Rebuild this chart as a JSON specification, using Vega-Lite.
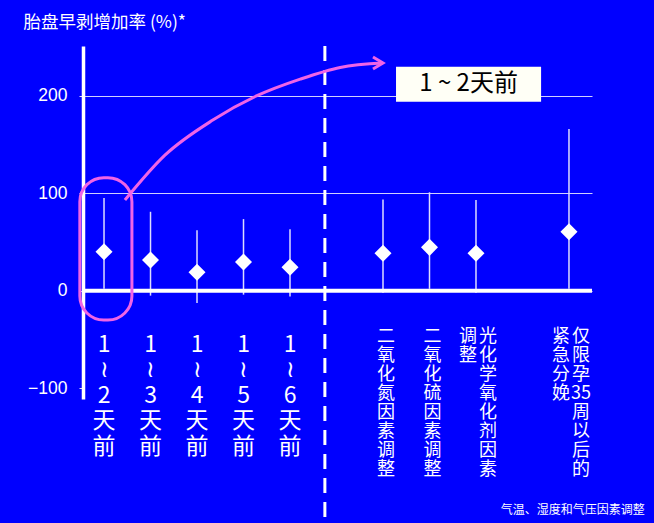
{
  "$schema": "https://vega.github.io/schema/vega-lite/v6.json",
  "width": 509,
  "height": 353,
  "autosize": {"type": "none"},
  "padding": {"left": 83, "top": 46, "right": 62, "bottom": 124},
  "background": "#0000ff",
  "config": {
    "view": {"stroke": null},
    "font": "Liberation Sans, Noto Sans CJK SC",
    "text": {"font": "Noto Sans CJK SC"}
  },
  "resolve": {"axis": {"x": "independent", "y": "independent"}},
  "datasets": {
    "pts": [
      {"idx": 0, "est": 40, "lo": 2, "hi": 95, "grp": "lag", "label": "1\n≀\n2\n天\n前"},
      {"idx": 1, "est": 31.5, "lo": -5, "hi": 81, "grp": "lag", "label": "1\n≀\n3\n天\n前"},
      {"idx": 2, "est": 19, "lo": -12.5, "hi": 62, "grp": "lag", "label": "1\n≀\n4\n天\n前"},
      {"idx": 3, "est": 29.5, "lo": -4, "hi": 73.5, "grp": "lag", "label": "1\n≀\n5\n天\n前"},
      {"idx": 4, "est": 24, "lo": -6, "hi": 63, "grp": "lag", "label": "1\n≀\n6\n天\n前"},
      {"idx": 6, "est": 38.5, "lo": -2, "hi": 93.5, "grp": "adj", "label": "二\n氧\n化\n氮\n因\n素\n调\n整"},
      {"idx": 7, "est": 44.5, "lo": 2, "hi": 101, "grp": "adj", "label": "二\n氧\n化\n硫\n因\n素\n调\n整"},
      {"idx": 8, "est": 38.5, "lo": -2, "hi": 93, "grp": "adj2", "label": "光\n化\n学\n氧\n化\n剂\n因\n素", "label2": "调\n整"},
      {"idx": 10, "est": 60.5, "lo": 2, "hi": 166, "grp": "adj2", "label": "仅\n限\n孕\n35\n周\n以\n后\n的", "label2": "紧\n急\n分\n娩"}
    ],
    "arrow": [
      {"ax": 0.45, "ay": 93},
      {"ax": 1.31, "ay": 139},
      {"ax": 2.34, "ay": 175},
      {"ax": 3.29, "ay": 200},
      {"ax": 4.22, "ay": 217},
      {"ax": 5.08, "ay": 229},
      {"ax": 6.0, "ay": 233.5}
    ],
    "one": [{"note": "annotation"}]
  },
  "layer": [
    {
      "data": {"name": "pts"},
      "mark": {"type": "rule", "color": "#dcdcff", "strokeWidth": 1.5},
      "encoding": {
        "x": {"field": "idx", "type": "quantitative", "scale": {"domain": [-0.452, 10.495], "nice": false, "zero": false}, "axis": null},
        "y": {
          "field": "lo", "type": "quantitative",
          "scale": {"domain": [-111, 251], "nice": false, "zero": false},
          "axis": {
            "values": [-100, 0, 100, 200],
            "title": "胎盘早剥增加率 (%)*",
            "titleAngle": 0, "titleX": -60, "titleY": -24, "titleAlign": "left", "titleBaseline": "middle",
            "titleColor": "white", "titleFontSize": 17.5, "titleFontWeight": "normal", "titleFont": "Noto Sans CJK SC",
            "labelColor": "white", "labelFontSize": 17.5, "labelPadding": 12, "labelFont": "Liberation Sans",
            "domainColor": "white", "domainWidth": 3.5,
            "tickColor": "#dcdcff", "tickSize": 4, "tickWidth": 1,
            "grid": true, "gridColor": "#d0d0ff", "gridWidth": 1,
            "gridOpacity": {"condition": {"test": "datum.value < 0", "value": 0}, "value": 1}
          }
        },
        "y2": {"field": "hi"}
      }
    },
    {
      "data": {"name": "one"},
      "mark": {"type": "rule", "color": "white", "strokeWidth": 4},
      "encoding": {
        "y": {"datum": 0, "type": "quantitative", "scale": {"domain": [-111, 251], "nice": false, "zero": false}, "axis": null}
      }
    },
    {
      "data": {"name": "one"},
      "mark": {"type": "rule", "color": "white", "strokeWidth": 3, "strokeDash": [15, 9]},
      "encoding": {
        "x": {"datum": 4.75, "type": "quantitative", "scale": {"domain": [-0.452, 10.495], "nice": false, "zero": false}, "axis": null},
        "y": {"datum": 251, "type": "quantitative", "scale": {"domain": [-111, 251], "nice": false, "zero": false}, "axis": null},
        "y2": {"datum": -240}
      }
    },
    {
      "data": {"name": "pts"},
      "mark": {"type": "point", "shape": "diamond", "filled": true, "color": "white", "opacity": 1, "size": 290},
      "encoding": {
        "x": {"field": "idx", "type": "quantitative", "scale": {"domain": [-0.452, 10.495], "nice": false, "zero": false}, "axis": null},
        "y": {"field": "est", "type": "quantitative", "scale": {"domain": [-111, 251], "nice": false, "zero": false}, "axis": null}
      }
    },
    {
      "data": {"name": "pts"},
      "transform": [{"filter": "datum.grp === 'lag'"}],
      "mark": {"type": "text", "color": "white", "fontSize": 23, "lineHeight": 25.5, "lineBreak": "\n", "baseline": "top", "align": "center", "font": "Noto Sans CJK SC"},
      "encoding": {
        "x": {"field": "idx", "type": "quantitative", "scale": {"domain": [-0.452, 10.495], "nice": false, "zero": false}, "axis": null},
        "y": {"datum": -44, "type": "quantitative", "scale": {"domain": [-111, 251], "nice": false, "zero": false}, "axis": null},
        "text": {"field": "label"}
      }
    },
    {
      "data": {"name": "pts"},
      "transform": [{"filter": "datum.grp === 'adj'"}],
      "mark": {"type": "text", "color": "white", "fontSize": 18, "lineHeight": 19, "lineBreak": "\n", "baseline": "top", "align": "center", "dx": 3, "font": "Noto Sans CJK SC"},
      "encoding": {
        "x": {"field": "idx", "type": "quantitative", "scale": {"domain": [-0.452, 10.495], "nice": false, "zero": false}, "axis": null},
        "y": {"datum": -38.5, "type": "quantitative", "scale": {"domain": [-111, 251], "nice": false, "zero": false}, "axis": null},
        "text": {"field": "label"}
      }
    },
    {
      "data": {"name": "pts"},
      "transform": [{"filter": "datum.grp === 'adj2'"}],
      "mark": {"type": "text", "color": "white", "fontSize": 18, "lineHeight": 19, "lineBreak": "\n", "baseline": "top", "align": "center", "dx": 12, "font": "Noto Sans CJK SC"},
      "encoding": {
        "x": {"field": "idx", "type": "quantitative", "scale": {"domain": [-0.452, 10.495], "nice": false, "zero": false}, "axis": null},
        "y": {"datum": -38.5, "type": "quantitative", "scale": {"domain": [-111, 251], "nice": false, "zero": false}, "axis": null},
        "text": {"field": "label"}
      }
    },
    {
      "data": {"name": "pts"},
      "transform": [{"filter": "datum.grp === 'adj2'"}],
      "mark": {"type": "text", "color": "white", "fontSize": 18, "lineHeight": 19, "lineBreak": "\n", "baseline": "top", "align": "center", "dx": -8, "font": "Noto Sans CJK SC"},
      "encoding": {
        "x": {"field": "idx", "type": "quantitative", "scale": {"domain": [-0.452, 10.495], "nice": false, "zero": false}, "axis": null},
        "y": {"datum": -38.5, "type": "quantitative", "scale": {"domain": [-111, 251], "nice": false, "zero": false}, "axis": null},
        "text": {"field": "label2"}
      }
    },
    {
      "data": {"name": "one"},
      "mark": {"type": "rect", "filled": false, "stroke": "#f064e6", "strokeWidth": 3, "cornerRadius": 24},
      "encoding": {
        "x": {"datum": -0.52, "type": "quantitative", "scale": {"domain": [-0.452, 10.495], "nice": false, "zero": false}, "axis": null},
        "x2": {"datum": 0.6},
        "y": {"datum": 116, "type": "quantitative", "scale": {"domain": [-111, 251], "nice": false, "zero": false}, "axis": null},
        "y2": {"datum": -30}
      }
    },
    {
      "data": {"name": "arrow"},
      "mark": {"type": "line", "color": "#f064e6", "strokeWidth": 3, "interpolate": "monotone"},
      "encoding": {
        "x": {"field": "ax", "type": "quantitative", "scale": {"domain": [-0.452, 10.495], "nice": false, "zero": false}, "axis": null},
        "y": {"field": "ay", "type": "quantitative", "scale": {"domain": [-111, 251], "nice": false, "zero": false}, "axis": null}
      }
    },
    {
      "data": {"name": "one"},
      "mark": {"type": "point", "shape": "M-1,-0.6L0,0L-1,0.6", "filled": false, "stroke": "#f064e6", "strokeWidth": 3, "size": 400, "opacity": 1},
      "encoding": {
        "x": {"datum": 6.0, "type": "quantitative", "scale": {"domain": [-0.452, 10.495], "nice": false, "zero": false}, "axis": null},
        "y": {"datum": 233.5, "type": "quantitative", "scale": {"domain": [-111, 251], "nice": false, "zero": false}, "axis": null}
      }
    },
    {
      "data": {"name": "one"},
      "mark": {"type": "rect", "color": "#fffff6"},
      "encoding": {
        "x": {"datum": 6.28, "type": "quantitative", "scale": {"domain": [-0.452, 10.495], "nice": false, "zero": false}, "axis": null},
        "x2": {"datum": 9.4},
        "y": {"datum": 229.6, "type": "quantitative", "scale": {"domain": [-111, 251], "nice": false, "zero": false}, "axis": null},
        "y2": {"datum": 193.9}
      }
    },
    {
      "data": {"name": "one"},
      "mark": {"type": "text", "color": "black", "fontSize": 24, "align": "center", "baseline": "middle", "font": "Noto Sans CJK SC"},
      "encoding": {
        "x": {"datum": 7.84, "type": "quantitative", "scale": {"domain": [-0.452, 10.495], "nice": false, "zero": false}, "axis": null},
        "y": {"datum": 211.7, "type": "quantitative", "scale": {"domain": [-111, 251], "nice": false, "zero": false}, "axis": null},
        "text": {"value": "1 ~ 2天前"}
      }
    },
    {
      "data": {"name": "one"},
      "mark": {"type": "text", "color": "white", "fontSize": 12, "align": "right", "baseline": "middle", "font": "Noto Sans CJK SC"},
      "encoding": {
        "x": {"datum": 11.63, "type": "quantitative", "scale": {"domain": [-0.452, 10.495], "nice": false, "zero": false}, "axis": null},
        "y": {"datum": -224.6, "type": "quantitative", "scale": {"domain": [-111, 251], "nice": false, "zero": false}, "axis": null},
        "text": {"value": "气温、湿度和气压因素调整"}
      }
    }
  ]
}
